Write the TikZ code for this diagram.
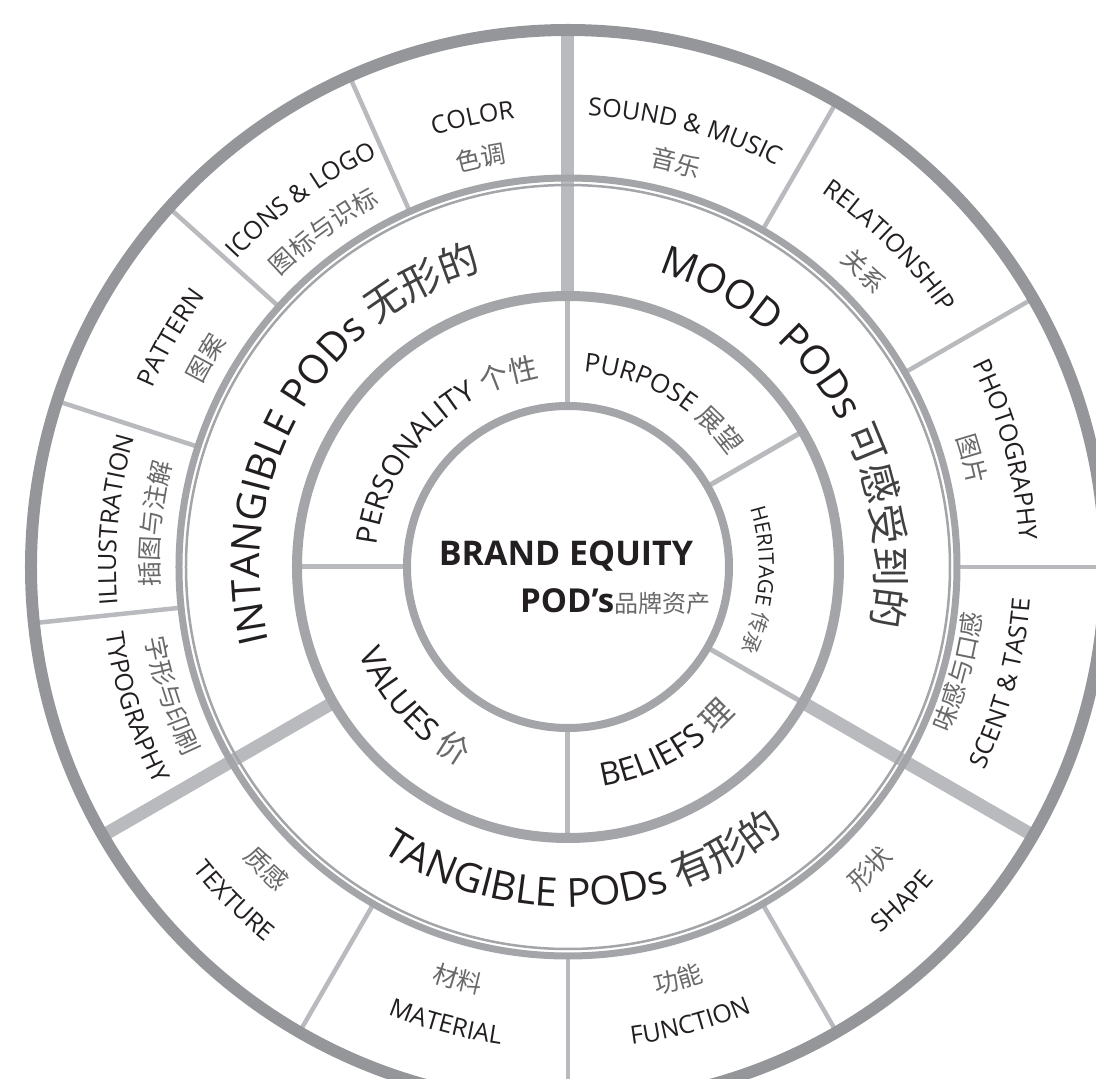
\documentclass[tikz,border=0pt]{standalone}
\usepackage{fontspec}
\setmainfont{Open Sans}
\newfontfamily\cjk{Noto Sans CJK SC}
\usetikzlibrary{decorations.text}

\definecolor{ringdark}{RGB}{148,150,153}
\definecolor{ringmid}{RGB}{163,165,168}
\definecolor{linelight}{RGB}{184,186,189}
\definecolor{inkblack}{RGB}{35,31,32}
\definecolor{zhgray}{RGB}{105,105,105}

% font switches used inside the curved labels
\newcommand\en[1]{\fontsize{#1}{#1}\selectfont\color{inkblack}}
\newcommand\zh[1]{\fontsize{#1}{#1}\selectfont\cjk\color{zhgray}}
% arcs round the centre: clockwise (tops out) and anticlockwise (tops in)
\newcommand\cwarc[2]{(#1+60:#2) arc[start angle=#1+60, end angle=#1-60, radius=#2]}
\newcommand\ccwarc[2]{(#1-60:#2) arc[start angle=#1-60, end angle=#1+60, radius=#2]}

\begin{document}
\begin{tikzpicture}[x=1pt,y=1pt,
arctext/.style={decorate,decoration={text along path,text align=center,text={#1}}},
thindiv/.style={linelight,line width=4.5pt},
innerdiv/.style={linelight,line width=5pt},
thickdiv/.style={linelight,line width=13pt},
ring/.style={ringmid,line width=#1}]

\useasboundingbox (-568,-512) rectangle (528,567);

% dividers
\foreach \a in {114,138,162,186,60,30,0,-60,-90,-120}
  \draw[thindiv] (\a:388) -- (\a:540);
\foreach \a in {90,180,270,30,-30}
  \draw[innerdiv] (\a:161) -- (\a:271);
\foreach \a in {90,210,330}
  \draw[thickdiv] (\a:271) -- (\a:537);

% rings
\draw[ringdark,line width=12pt] (0,0) circle[radius=537];
\draw[ring=7pt] (0,0) circle[radius=389];
\draw[ring=2.5pt] (0,0) circle[radius=382];
\draw[ring=10pt] (0,0) circle[radius=271];
\draw[ring=8pt] (0,0) circle[radius=161];

% centre
\node[font=\fontsize{34}{34}\selectfont\bfseries,text=inkblack] (brand) at (-2,11) {BRAND EQUITY};
\node[font=\fontsize{33}{33}\selectfont\bfseries,text=inkblack,anchor=base west,inner sep=0pt] (pods) at (-48,-46) {POD’s};
\node[font=\fontsize{24}{24}\selectfont\cjk,text=zhgray,anchor=base west,inner sep=0pt] (pinpai) at (pods.base east) {品牌资产};

% inner ring
\path[arctext={|\en{29}|PERSONALITY |\zh{29}|个性}] \cwarc{136}{192};
\path[arctext={|\en{26}|PURPOSE |\zh{26}|展望}] \cwarc{60}{196};
\path[arctext={|\en{21}|HERITAGE |\zh{21}|传承}] \cwarc{-4}{191};
\path[arctext={|\en{32}|BELIEFS |\zh{32}|理}] \ccwarc{-61}{222};
\path[arctext={|\en{32}|VALUES |\zh{32}|价}] \ccwarc{222}{226};

% middle ring
\path[arctext={|\en{40}|INTANGIBLE PODs |\zh{40}\color{black!75}|无形的}] \cwarc{150}{308};
\path[arctext={|\en{40}|MOOD PODs |\zh{40}\color{black!75}|可感受到的}] \cwarc{31}{308};
\path[arctext={|\en{40}|TANGIBLE PODs |\zh{40}\color{black!75}|有形的}] \ccwarc{273}{340};

% outer ring, upper half
\path[arctext={|\en{25}|COLOR}] \cwarc{102}{452};
\path[arctext={|\zh{25}|色调}] \cwarc{102}{409};
\path[arctext={|\en{25}|ICONS {\&} LOGO}] \cwarc{126}{452};
\path[arctext={|\zh{25}|图标与识标}] \cwarc{126}{409};
\path[arctext={|\en{25}|PATTERN}] \cwarc{150}{452};
\path[arctext={|\zh{25}|图案}] \cwarc{150}{409};
\path[arctext={|\en{25}|ILLUSTRATION}] \cwarc{174}{452};
\path[arctext={|\zh{25}|插图与注解}] \cwarc{174}{409};
\path[arctext={|\en{25}|SOUND {\&} MUSIC}] \cwarc{75}{452};
\path[arctext={|\zh{25}|音乐}] \cwarc{75}{409};
\path[arctext={|\en{25}|RELATIONSHIP}] \cwarc{45}{452};
\path[arctext={|\zh{25}|关系}] \cwarc{45}{409};
\path[arctext={|\en{25}|PHOTOGRAPHY}] \cwarc{15}{452};
\path[arctext={|\zh{25}|图片}] \cwarc{15}{409};

% outer ring, lower half
\path[arctext={|\en{25}|TYPOGRAPHY}] \ccwarc{198}{467};
\path[arctext={|\zh{25}|字形与印刷}] \ccwarc{198}{428};
\path[arctext={|\en{25}|SCENT {\&} TASTE}] \ccwarc{-15}{463};
\path[arctext={|\zh{25}|味感与口感}] \ccwarc{-15}{416};
\path[arctext={|\en{25}|SHAPE}] \ccwarc{-45}{482};
\path[arctext={|\zh{25}|形状}] \ccwarc{-45}{436};
\path[arctext={|\en{25}|FUNCTION}] \ccwarc{-75}{482};
\path[arctext={|\zh{25}|功能}] \ccwarc{-75}{436};
\path[arctext={|\en{25}|MATERIAL}] \ccwarc{-105}{482};
\path[arctext={|\zh{25}|材料}] \ccwarc{-105}{436};
\path[arctext={|\en{25}|TEXTURE}] \ccwarc{225}{482};
\path[arctext={|\zh{25}|质感}] \ccwarc{225}{436};

\end{tikzpicture}
\end{document}
